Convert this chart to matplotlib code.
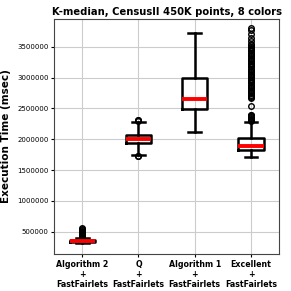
from matplotlib import pyplot as plt

labels = ["Algorithm 2\n+\nFastFairlets", "Q\n+\nFastFairlets",
          "Algorithm 1\n+\nFastFairlets", "Excellent\n+\nFastFairlets"]
medians = [352000, 2005000, 2650000, 1888000]
q1 = [332000, 1940000, 2490000, 1821000]
q3 = [366000, 2075000, 3000000, 2020000]
whislo = [318000, 1750000, 2114000, 1705000]
whishi = [400000, 2275000, 3722000, 2276000]
fliers = [
    [410000, 420000, 430000, 440000, 450000, 460000, 470000, 480000, 490000,
     500000, 510000, 525000, 540000, 552000],
    [1725000, 1735000, 2290000, 2305000, 2315000],
    [],
    [2300000, 2315000, 2330000, 2345000, 2360000, 2375000, 2390000, 2400000,
     2535000,
     2665000, 2685000, 2705000, 2725000, 2745000, 2765000, 2785000, 2805000,
     2825000, 2845000, 2865000, 2885000, 2905000, 2925000, 2945000, 2965000,
     2985000, 3005000, 3025000, 3045000, 3065000, 3085000, 3105000, 3125000,
     3145000, 3165000, 3185000, 3205000, 3225000, 3245000, 3265000, 3285000,
     3305000, 3325000, 3345000, 3365000, 3385000, 3405000, 3425000, 3445000,
     3465000, 3485000, 3505000, 3525000, 3540000,
     3600000, 3650000, 3700000, 3780000, 3810000],
]
yticks = [500000, 1000000, 1500000, 2000000, 2500000, 3000000, 3500000]

stats = []
for i in range(len(labels)):
    stats.append({"med": medians[i], "q1": q1[i], "q3": q3[i],
                  "whislo": whislo[i], "whishi": whishi[i],
                  "fliers": fliers[i], "label": labels[i]})

fig = plt.figure(figsize=(2.91, 2.91), dpi=100)
ax = fig.add_axes([0.186, 0.127, 0.773, 0.808])
ax.bxp(stats, widths=0.45,
       boxprops=dict(color="black", linewidth=1.8),
       whiskerprops=dict(color="black", linewidth=1.8),
       capprops=dict(color="black", linewidth=1.8),
       medianprops=dict(color="red", linewidth=2.8),
       flierprops=dict(marker="o", markerfacecolor="none", markeredgecolor="black",
                       markersize=4, markeredgewidth=1.0))
ax.set_xlim(0.5, 4.5)
ax.set_ylim(136000, 3953000)
ax.set_yticks(yticks)
ax.set_yticklabels([str(v) for v in yticks])
ax.grid(True, color="#cccccc", linewidth=0.8)
ax.set_axisbelow(True)
for s in ax.spines.values():
    s.set_color("#444444")
ax.tick_params(axis="y", labelsize=5, length=2, pad=2)
ax.tick_params(axis="x", labelsize=5.7, length=2, pad=2)
for t in ax.get_xticklabels():
    t.set_fontweight("bold")
ax.set_ylabel("Execution Time (msec)", fontsize=7.5, fontweight="bold")
ax.yaxis.set_label_coords(-0.19, 0.5)
ax.set_title("K-median, CensusII 450K points, 8 colors", fontsize=7.2, fontweight="bold", pad=3)
fig.savefig("out.png", dpi=100)
